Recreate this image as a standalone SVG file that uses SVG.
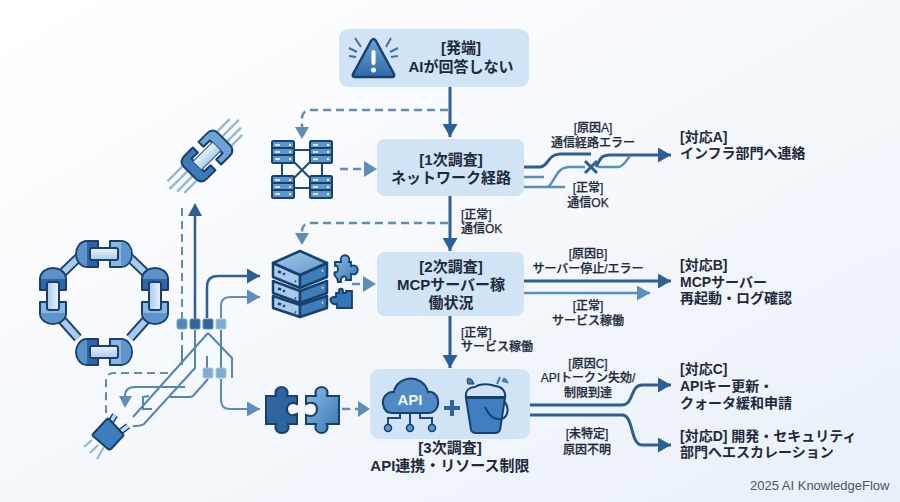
<svg xmlns="http://www.w3.org/2000/svg" width="900" height="502" viewBox="0 0 900 502">
<style>
text{font-family:"Liberation Sans","Noto Sans CJK JP",sans-serif;fill:#1d2a3c}
.b{font-size:15px;font-weight:700;text-anchor:middle}
.r{font-size:14px;font-weight:700}
.s{font-size:12px;font-weight:500;stroke:#1d2a3c;stroke-width:.25}
.c{text-anchor:middle}
.box{fill:#d0e4f5}
.d{fill:none;stroke:#2d5f96;stroke-width:3}
.m{fill:none;stroke:#5b8dbd;stroke-width:2.5}
.da{fill:none;stroke:#5f8db8;stroke-width:2.5;stroke-dasharray:8 5}
.p{fill:none;stroke:#5585b5;stroke-width:2}
.ol{stroke:#173f70;stroke-width:2;stroke-linejoin:round}
.ln{fill:none;stroke:#1d4a7e;stroke-width:2}
.top{fill:url(#tp);stroke:#173f70;stroke-width:2.5;stroke-linejoin:round}
.lf{fill:#a7cbe9;stroke:#173f70;stroke-width:2.5;stroke-linejoin:round}
.rf{fill:#3f7db8;stroke:#173f70;stroke-width:2.5;stroke-linejoin:round}
</style>
<defs>
<linearGradient id="bg" x1="0" y1="0" x2="1" y2="1"><stop offset="0" stop-color="#ffffff"/><stop offset=".45" stop-color="#f6f9fd"/><stop offset="1" stop-color="#e9f0f8"/></linearGradient>
<linearGradient id="fb" x1="0" y1="0" x2="0" y2="1"><stop offset="0" stop-color="#6fa3d4"/><stop offset="1" stop-color="#2f6aa8"/></linearGradient>
<linearGradient id="pu" x1="0" y1="0" x2="1" y2="1"><stop offset="0" stop-color="#8dbce2"/><stop offset="1" stop-color="#3676b4"/></linearGradient>
<linearGradient id="tp" x1="0" y1="0" x2="1" y2="1"><stop offset="0" stop-color="#a3c9e8"/><stop offset="1" stop-color="#6199cf"/></linearGradient>
<linearGradient id="pill" x1="0" y1="0" x2="0" y2="1"><stop offset="0" stop-color="#eaf3fb"/><stop offset="1" stop-color="#a9cbe9"/></linearGradient>
<marker id="hd" markerUnits="userSpaceOnUse" markerWidth="15" markerHeight="15" refX="13" refY="7.5" orient="auto"><path d="M0 0L13 7.5L0 15z" fill="#2d5f96"/></marker>
<marker id="hm" markerUnits="userSpaceOnUse" markerWidth="15" markerHeight="15" refX="13" refY="7.5" orient="auto"><path d="M0 0L13 7.5L0 15z" fill="#5b8dbd"/></marker>
<g id="link">
<path class="ol" d="M-6 -13H-17C-24 -13 -28 -6 -28 0C-28 6 -24 13 -17 13H-6z" fill="#2f65a3"/>
<path d="M-17 -12C-23 -12 -27 -6 -27 0C-27 6 -23 12 -17 12z" fill="#5b93c8"/>
<path class="ol" d="M6 -13H17C24 -13 28 -6 28 0C28 6 24 13 17 13H6z" fill="#8ab7de"/>
<path d="M17 -12C23 -12 27 -6 27 0C27 6 23 12 17 12z" fill="#5d95ca"/>
<rect class="ol" x="-14" y="-6" width="28" height="12" rx="2" fill="url(#pill)"/>
</g>
<g id="srv">
<rect width="22" height="8" rx="1.500" fill="#5d97cb" stroke="#173f70" stroke-width="2"/><rect x="3" y="3" width="5" height="2" fill="#cfe3f4"/><rect x="17" y="3" width="2" height="2" fill="#e6f1fa"/>
</g>
</defs>
<rect width="900" height="502" fill="url(#bg)"/>

<g id="connectors">
<path class="d" d="M450 87V137" marker-end="url(#hd)"/>
<path class="da" d="M448 110H311Q302 110 302 119V127"/><path d="M295 127H309L302 139z" fill="#5f8db8"/>
<path class="da" d="M340 169H364"/><path d="M364 161V177L377 169z" fill="#5f8db8"/>
<path class="d" d="M450 196V251" marker-end="url(#hd)"/>
<path class="da" d="M448 223H311Q302 223 302 232V233"/><path d="M295 233H309L302 245z" fill="#5f8db8"/>
<path class="da" d="M352 284H363"/><path d="M363 276V292L376 284z" fill="#5f8db8"/>
<path class="d" d="M450 316V368" marker-end="url(#hd)"/>
<path class="da" d="M342 409H358"/><path d="M358 401V417L370 409z" fill="#5f8db8"/>
<path class="d" d="M524 167H540C548 167 548 154 560 154H591"/>
<path class="d" d="M596 167C600 160 600 155 610 155H671" marker-end="url(#hd)"/>
<path class="m" d="M524 177H544M524 187H565"/>
<path class="m" d="M548 187C556 180 556 167 570 167H585M598 167H618C624 167 626 160 630 156"/>
<path d="M585 161L597 173M597 161L585 173" stroke="#2d5f96" stroke-width="3" fill="none"/>
<path class="d" d="M524 281H671" marker-end="url(#hd)"/>
<path class="m" d="M524 293H650" marker-end="url(#hm)"/>
<path class="d" d="M530 405H622C634 405 630 385 642 385H671" marker-end="url(#hd)"/>
<path class="d" d="M530 415H622C634 415 630 445 642 445H671" marker-end="url(#hd)"/>
<path class="da" style="stroke-width:2" d="M182 208V320"/><path class="da" style="stroke-width:2" d="M182 332V350"/><path class="p" d="M182 350V365"/>
<path class="d" style="stroke-width:2.500" d="M195 215V320"/><path d="M188 216H202L195 203z" fill="#2d5f96"/>
<path class="p" d="M195 330V368L144 424Q141 426 133 426"/>
<path class="d" style="stroke-width:2.500" d="M207 318V287Q207 276 218 276H260" marker-end="url(#hd)"/>
<path class="m" style="stroke-width:2" d="M221 318V306Q221 297 230 297H260" marker-end="url(#hm)"/>
<path class="p" d="M208 333L133 417M208 333L232 358V378M207 356V368M208 379L193 396Q192 397 188 397H170M221 330V368"/>
<path class="m" style="stroke-width:2" d="M221 379V400Q221 409 230 409H260" marker-end="url(#hm)"/>
<path class="p" d="M185 387H135Q125 387 125 396V397"/><path d="M119 396H132L125 408z" fill="#5f8db8"/>
<path class="p" d="M149 396L143 397V409H152"/>
<path class="da" style="stroke-width:2" d="M168 373H114Q106 373 106 381V413"/>
<g fill="#4f86bb" stroke="#7aa7cf"><rect x="177" y="319" width="10" height="10" rx="2"/></g>
<g fill="#2f659f" stroke="#5f8db8"><rect x="190" y="319" width="10" height="10" rx="1.500"/><rect x="203" y="319" width="10" height="10" rx="1.500"/></g>
<g fill="#7faad2" stroke="#a9c7e2"><rect x="216" y="319" width="10" height="10" rx="1.500"/><rect x="203" y="368" width="10" height="10" rx="1.500"/><rect x="216" y="368" width="10" height="10" rx="1.500"/></g>
</g>

<g id="node-start"><rect class="box" x="339" y="29" width="190" height="58" rx="9"/>
<path d="M371 41L353 74Q352 77 355 77H392Q395 77 394 74L376 41Q373.500 37 371 41z" fill="url(#fb)" stroke="#173f70" stroke-width="2.500" stroke-linejoin="round"/>
<rect x="371.500" y="50" width="4" height="15" rx="2" fill="#fff"/><circle cx="373.500" cy="70" r="2.500" fill="#fff"/>
<path d="M349 48L357 52M355 38L361 47M349 56L356 57M398 48L390 52M391 38L386 47M398 56L391 57" stroke="#3f6fa5" stroke-width="2" fill="none"/>
<text class="b" x="461" y="53">[発端]</text><text class="b" x="461" y="72">AIが回答しない</text></g>

<g id="node-1"><rect class="box" x="377" y="139" width="147" height="57" rx="8"/>
<text class="b" x="451" y="165">[1次調査]</text><text class="b" x="451" y="183">ネットワーク経路</text></g>

<g id="node-2"><rect class="box" x="377" y="252" width="147" height="64" rx="8"/>
<text class="b" x="451" y="272">[2次調査]</text><text class="b" x="451" y="290">MCPサーバー稼</text><text class="b" x="451" y="308">働状況</text></g>

<g id="node-3"><rect class="box" x="370" y="369" width="160" height="70" rx="9"/>
<path d="M392 413H428C436 413 439 406 438 400C437 394 432 391 428 392C426 383 417 377 407 379C398 381 394 388 394 392C387 391 382 398 383 404C384 410 387 413 392 413z" fill="#4f8ac4" stroke="#173f70" stroke-width="2"/>
<text x="410" y="405" text-anchor="middle" style="font-size:15px;font-weight:700;fill:#eef6fc">API</text>
<path class="ln" d="M400 413V418H388V425M410 413V425M420 413V418H432V425"/>
<circle cx="388" cy="428" r="3.500" fill="#5c95c8" stroke="#173f70" stroke-width="1.500"/><circle cx="410" cy="428" r="3.500" fill="#5c95c8" stroke="#173f70" stroke-width="1.500"/><circle cx="432" cy="428" r="3.500" fill="#5c95c8" stroke="#173f70" stroke-width="1.500"/>
<path d="M444 408H460M452 400V416" stroke="#2f659f" stroke-width="4"/>
<path d="M466 398L471 430Q472 433 476 433H495Q499 433 500 430L505 398z" fill="#3f7fc0" stroke="#173f70" stroke-width="2"/>
<path d="M466 397C465 390 470 387 475 387C480 383 491 384 495 386C501 386 506 391 505 397z" fill="#cfe3f4" stroke="#173f70" stroke-width="2"/>
<path d="M485 407C489 416 495 420 501 419C507 418 510 410 505 402" fill="none" stroke="#173f70" stroke-width="2"/>
<path d="M468 384Q466 380 468 378Q473 379 474 384Z" fill="#3f7ab4" stroke="#173f70"/><path d="M497 384L500 377M503 381Q504 376 507 382Z" fill="none" stroke="#3f7ab4" stroke-width="2"/>
<text class="b" x="450" y="453">[3次調査]</text><text class="b" x="450" y="471">API連携・リソース制限</text></g>

<g id="icon-network"><path d="M282 150H322M282 188H322M282 150V188M322 150V188M292 160L312 180M312 160L292 180" stroke="#1d4a7e" stroke-width="2" fill="none"/>
<use href="#srv" x="272" y="141"/><use href="#srv" x="272" y="148"/><use href="#srv" x="272" y="155"/>
<use href="#srv" x="310" y="141"/><use href="#srv" x="310" y="148"/><use href="#srv" x="310" y="155"/>
<use href="#srv" x="272" y="176"/><use href="#srv" x="272" y="183"/><use href="#srv" x="272" y="190"/>
<use href="#srv" x="310" y="176"/><use href="#srv" x="310" y="183"/><use href="#srv" x="310" y="190"/></g>

<g id="icon-server">
<path class="lf" d="M273 296L300 305V317L273 308z"/><path class="rf" d="M327 296L300 305V317L327 308z"/>
<path class="lf" d="M273 281L300 291V303L273 293z"/><path class="rf" d="M327 281L300 291V303L327 293z"/>
<path class="lf" d="M273 263L300 275V288L273 277z"/><path class="rf" d="M327 263L300 275V288L327 277z"/>
<path class="top" d="M273 263L300 251L327 263L300 275z"/>
<path d="M278 271.500l3 1M283 273.500l2 1M278 288.500l3 1M283 290.500l2 1M278 303.500l3 1M283 305.500l2 1M295 281l1 .5M295 298l1 .5M295 312l1 .5" stroke="#173f70" stroke-width="2.500"/>
<path d="M322 271l1-.5M322 288l1-.5M322 303l1-.5" stroke="#e3eff9" stroke-width="2.500"/>
<path d="M335 262H341C338 253 352 253 349 262H351V266C359 262 361 277 351 274V280H346C348 275 340 275 341 282H338C338 276 332 276 335 272C339 274 339 264 335 266z" fill="url(#pu)" stroke="#173f70" stroke-width="1.800"/>
<path d="M336 293H339V291C339 288 343 288 343 291V293H346V291H352V308H337V304C331 306 326 296 336 297z" fill="#3676b4" stroke="#173f70" stroke-width="1.800"/>
</g>

<g id="icon-puzzle">
<path d="M266 396H276C272 384 291 384 287 396H297V404C291 401 287 405 287 409C287 414 291 417 297 414V424H288C292 436 272 436 276 424H266z" fill="#2f659f" stroke="#173f70" stroke-width="2"/>
<path d="M306 396H316C312 384 331 384 327 396H339V424H327C331 436 312 436 316 424H306V415C313 418 317 414 317 409C317 404 313 401 306 404z" fill="url(#pu)" stroke="#173f70" stroke-width="2"/>
</g>

<g id="icon-ring">
<path d="M78 258L54 281M130 258L154 281M54 311L78 338M154 311L130 338" stroke="#173f70" stroke-width="10" fill="none"/>
<path d="M78 258L54 281M130 258L154 281M54 311L78 338M154 311L130 338" stroke="#a9cbe9" stroke-width="6" fill="none"/>
<use href="#link" transform="translate(104 254)"/><use href="#link" transform="translate(104 352)"/>
<use href="#link" transform="translate(53 296) rotate(90)"/><use href="#link" transform="translate(155 296) rotate(90)"/>
</g>

<g id="icon-chain" transform="translate(207 156) rotate(-45)">
<path d="M-46 -10H-18M-50 -3H-18M-46 4H-18M-42 10H-18M18 -10H42M18 -3H48M18 4H44M18 10H40" stroke="#86aed3" stroke-width="2.500" fill="none" opacity=".85"/>
<path class="ol" d="M-4 -16H-16Q-24 -16 -24 -8V8Q-24 16 -16 16H-4V9H-13V-9H-4z" fill="#3f7ab8" stroke-width="2.500"/>
<path class="ol" d="M4 -16H16Q24 -16 24 -8V8Q24 16 16 16H4V9H13V-9H4z" fill="#6fa3d4" stroke-width="2.500"/>
<rect x="-14" y="-6" width="28" height="12" rx="1" fill="url(#pill)" stroke="#2f5f92" stroke-width="1.200"/>
</g>

<g id="icon-plug">
<path d="M84 447L92 440M90 453L98 445M97 459L104 447" stroke="#8fb6da" stroke-width="2" fill="none"/>
<path d="M110 423L115 415M120 432L128 426" stroke="#173f70" stroke-width="6.500"/><path d="M110 423L115 415M120 432L128 426" stroke="#c3dbf0" stroke-width="3.500"/>
<path d="M93 434Q92 435 93 436L108 449Q110 450 111 449L123 436Q124 435 123 434L109 419Q108 418 107 419z" fill="#3f7ebd" stroke="#173f70" stroke-width="2" stroke-linejoin="round"/>
</g>

<g id="labels">
<text class="s" x="461" y="219">[正常]</text><text class="s" x="461" y="233">通信OK</text>
<text class="s" x="461" y="337">[正常]</text><text class="s" x="461" y="351">サービス稼働</text>
<text class="s c" x="593" y="132">[原因A]</text><text class="s c" x="593" y="147">通信経路エラー</text>
<text class="s c" x="588" y="192">[正常]</text><text class="s c" x="588" y="207">通信OK</text>
<text class="s c" x="588" y="258">[原因B]</text><text class="s c" x="588" y="273">サーバー停止/エラー</text>
<text class="s c" x="588" y="310">[正常]</text><text class="s c" x="588" y="325">サービス稼働</text>
<text class="s c" x="588" y="368">[原因C]</text><text class="s c" x="588" y="382">APIトークン失効/</text><text class="s c" x="588" y="397">制限到達</text>
<text class="s c" x="587" y="438">[未特定]</text><text class="s c" x="587" y="454">原因不明</text>
</g>
<g id="node-a"><text class="r" x="680" y="142">[対応A]</text><text class="r" x="680" y="158">インフラ部門へ連絡</text></g>
<g id="node-b"><text class="r" x="680" y="270">[対応B]</text><text class="r" x="680" y="287">MCPサーバー</text><text class="r" x="680" y="303">再起動・ログ確認</text></g>
<g id="node-c"><text class="r" x="680" y="374">[対応C]</text><text class="r" x="680" y="391">APIキー更新・</text><text class="r" x="680" y="408">クォータ緩和申請</text></g>
<g id="node-d"><text class="r" x="680" y="441">[対応D] 開発・セキュリティ</text><text class="r" x="680" y="457">部門へエスカレーション</text></g>
<text x="750" y="490" style="font-size:13px;fill:#4a5568">2025 AI KnowledgeFlow</text>
</svg>
